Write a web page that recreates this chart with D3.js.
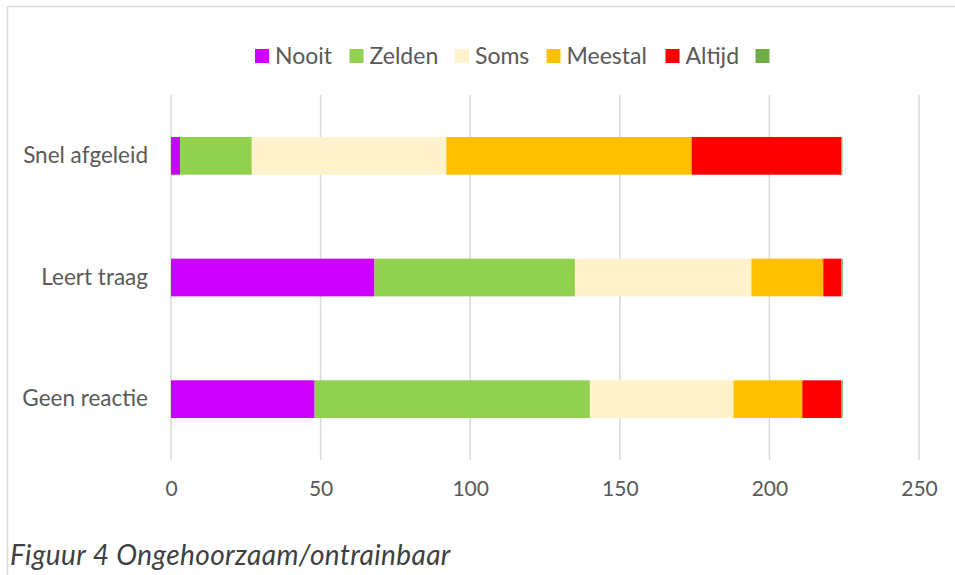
<!DOCTYPE html>
<meta charset="utf-8">
<script src="https://d3js.org/d3.v7.min.js"></script>
<style>
  body { margin: 0; background: #fff; }
  text { font-family: Lato, "Open Sans", sans-serif; fill: #595959; }
</style>
<div id="chart"></div>
<script>
// categories top to bottom
var categories = ["Snel afgeleid", "Leert traag", "Geen reactie"];
var series = ["Nooit", "Zelden", "Soms", "Meestal", "Altijd", ""];
var colors = ["#CC00FF", "#92D050", "#FFF2CC", "#FFC000", "#FF0000", "#70AD47"];

// values per series, same order as categories
var nooit   = [3, 68, 48];
var zelden  = [24, 67, 92];
var soms    = [65, 59, 48];
var meestal = [82, 24, 23];
var altijd  = [50, 6, 13];
var leeg    = [0.4, 0.5, 0.5];

var xTicks = [0, 50, 100, 150, 200, 250];

var W = 955, H = 575;

var svg = d3.select("#chart").append("svg")
  .attr("width", W).attr("height", H);

// outer frame (only top and left visible in the crop)
svg.append("line").attr("x1", 7.5).attr("x2", W).attr("y1", 6.5).attr("y2", 6.5)
  .attr("stroke", "#d9d9d9").attr("stroke-width", 1.5);
svg.append("line").attr("x1", 7.5).attr("x2", 7.5).attr("y1", 6.5).attr("y2", H)
  .attr("stroke", "#d9d9d9").attr("stroke-width", 1.5);

var x = d3.scaleLinear().domain([0, 250]).range([171, 919]);
var y = d3.scaleBand().domain(categories).range([95, 460])
  .paddingInner(0.69).paddingOuter(0.345);

// gridlines
svg.append("g").selectAll("line")
  .data(xTicks)
  .enter().append("line")
  .attr("x1", function(d) { return x(d); })
  .attr("x2", function(d) { return x(d); })
  .attr("y1", 95).attr("y2", 460)
  .attr("stroke", "#d9d9d9").attr("stroke-width", 1.5);

// stacked data
var table = categories.map(function(c, i) {
  return { cat: c, s0: nooit[i], s1: zelden[i], s2: soms[i], s3: meestal[i], s4: altijd[i], s5: leeg[i] };
});
var keys = ["s0", "s1", "s2", "s3", "s4", "s5"];
var stacked = d3.stack().keys(keys)(table);

svg.append("g").selectAll("g")
  .data(stacked)
  .enter().append("g")
  .attr("fill", function(d, i) { return colors[i]; })
  .selectAll("rect")
  .data(function(d) { return d; })
  .enter().append("rect")
  .attr("x", function(d) { return x(d[0]); })
  .attr("y", function(d) { return y(d.data.cat); })
  .attr("width", function(d) { return x(d[1]) - x(d[0]); })
  .attr("height", y.bandwidth());

// x axis labels
var xAxis = svg.append("g")
  .attr("transform", "translate(0,473)")
  .call(d3.axisBottom(x).tickValues(xTicks).tickSize(0).tickPadding(8));
xAxis.select(".domain").remove();
xAxis.selectAll("text").style("font-size", "21px").attr("fill", "#595959")
  .style("font-family", "Lato, 'Open Sans', sans-serif");

// y axis labels
var yAxis = svg.append("g")
  .attr("transform", "translate(171,0)")
  .call(d3.axisLeft(y).tickSize(0).tickPadding(23));
yAxis.select(".domain").remove();
yAxis.selectAll("text").style("font-size", "22.5px").attr("fill", "#595959")
  .style("font-family", "Lato, 'Open Sans', sans-serif");

// legend
var legendX = [255, 349.5, 455, 546.5, 665.5, 755.5];
var legend = svg.append("g").selectAll("g")
  .data(series)
  .enter().append("g")
  .attr("transform", function(d, i) { return "translate(" + legendX[i] + ",49)"; });
legend.append("rect").attr("width", 14).attr("height", 14)
  .attr("fill", function(d, i) { return colors[i]; });
legend.append("text").attr("x", 20).attr("y", 7).attr("dy", "0.35em")
  .style("font-size", "23px").text(function(d) { return d; });

// caption
svg.append("text").attr("x", 10).attr("y", 565)
  .style("font-size", "28px").style("font-style", "italic")
  .style("letter-spacing", "0.4px")
  .style("fill", "#404040")
  .text("Figuur 4 Ongehoorzaam/ontrainbaar");
</script>
